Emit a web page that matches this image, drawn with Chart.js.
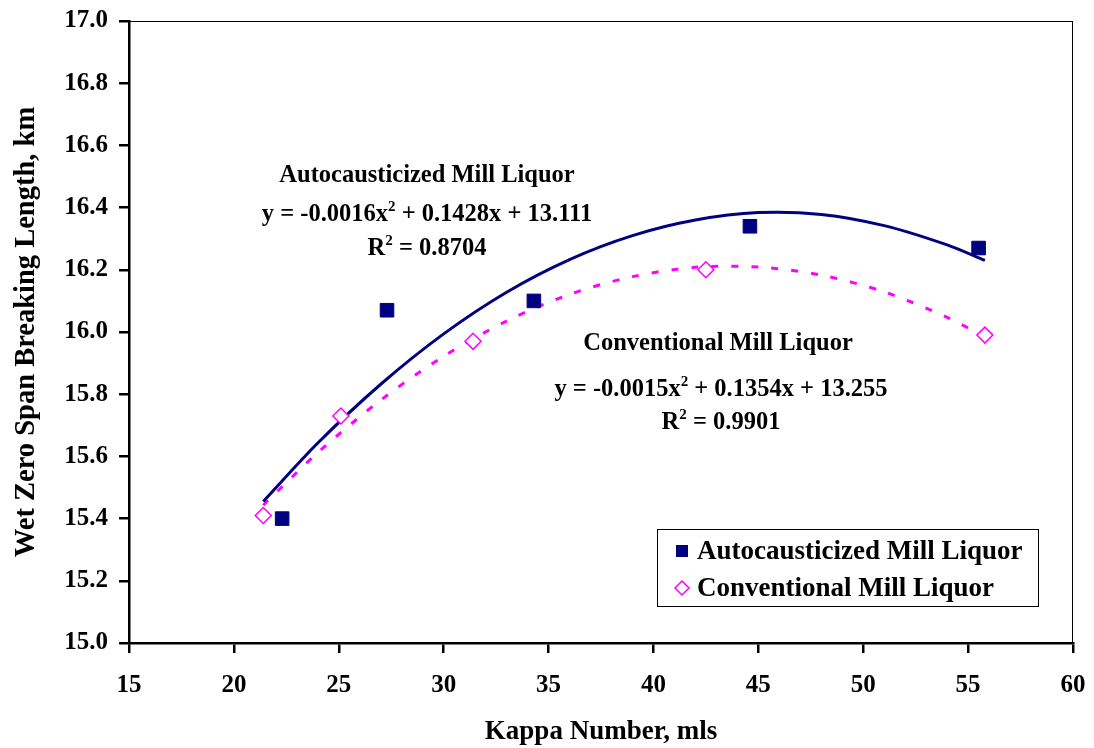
<!DOCTYPE html>
<html>
<head>
<meta charset="utf-8">
<title>Wet Zero Span Breaking Length vs Kappa Number</title>
<script src="https://cdn.jsdelivr.net/npm/chart.js@4.4.1/dist/chart.umd.min.js"></script>
<style>
  body { margin: 0; background: #fff; }
  canvas { display: block; }
</style>
</head>
<body>
<canvas id="grafico" width="1094" height="748"></canvas>
<script>
// measured points
const autoKappa = [22.3, 27.3, 34.3, 44.6, 55.5];
const autoSpan = [15.40, 16.07, 16.10, 16.34, 16.27];
const convKappa = [21.4, 25.1, 31.4, 42.5, 55.8];
const convSpan = [15.41, 15.73, 15.97, 16.20, 15.99];

// trend curves
const trendKappa = [21.4, 24, 27, 30, 33, 36, 39, 42, 45, 48, 51, 54, 55.8];
const autoTrend = [15.455, 15.643, 15.832, 15.994, 16.128, 16.233, 16.310, 16.360, 16.384, 16.378, 16.342, 16.280, 16.230];
const convTrend = [15.443, 15.612, 15.781, 15.922, 16.035, 16.121, 16.178, 16.208, 16.209, 16.183, 16.129, 16.047, 15.984];

// axes
const xMin = 15, xMax = 60, xStep = 5;
const yMin = 15, yMax = 17, yStep = 0.2;

const seriesNames = ['Autocausticized Mill Liquor', 'Conventional Mill Liquor'];
const autoNote = ['Autocausticized Mill Liquor', 'y = -0.0016x^2 + 0.1428x + 13.111', 'R^2 = 0.8704'];
const convNote = ['Conventional Mill Liquor', 'y = -0.0015x^2 + 0.1354x + 13.255', 'R^2 = 0.9901'];

const NAVY = '#000080';
const PINK = '#FF00FF';
const FAMILY = "'Liberation Serif', 'Times New Roman', serif";

Chart.defaults.font.family = FAMILY;
Chart.defaults.font.weight = 'bold';
Chart.defaults.color = '#000';

const toXY = (xs, ys) => xs.map((x, i) => ({ x: x, y: ys[i] }));

// text with a superscript 2 (marked as ^2)
function drawRich(ctx, text, cx, baseline, size) {
  const parts = text.split('^2');
  const big = `bold ${size}px ${FAMILY}`;
  const small = `bold ${Math.round(size * 0.62)}px ${FAMILY}`;
  ctx.font = small;
  const w2 = ctx.measureText('2').width;
  ctx.font = big;
  let total = w2 * (parts.length - 1);
  parts.forEach(p => total += ctx.measureText(p).width);
  let x = cx - total / 2;
  ctx.textAlign = 'left';
  ctx.textBaseline = 'alphabetic';
  ctx.fillStyle = '#000';
  parts.forEach((p, i) => {
    ctx.font = big;
    ctx.fillText(p, x, baseline);
    x += ctx.measureText(p).width;
    if (i < parts.length - 1) {
      ctx.font = small;
      ctx.fillText('2', x, baseline - size * 0.4);
      x += w2;
    }
  });
}

const moldura = {
  id: 'moldura',
  beforeDatasetsDraw(chart) {
    const { ctx, chartArea: a } = chart;
    ctx.save();
    ctx.strokeStyle = '#000';
    ctx.lineWidth = 1;
    ctx.strokeRect(a.left + 0.5, a.top + 0.5, a.right - a.left - 1, a.bottom - a.top);
    ctx.restore();
  }
};

const notas = {
  id: 'notas',
  afterDatasetsDraw(chart) {
    const ctx = chart.ctx;
    ctx.save();
    const autoLines = [182, 221, 255];
    autoNote.forEach((t, i) => drawRich(ctx, t, 427, autoLines[i], 24.5));
    const convLines = [350, 396, 429];
    const convX = [718, 721, 721];
    convNote.forEach((t, i) => drawRich(ctx, t, convX[i], convLines[i], 24.5));
    ctx.restore();
  }
};

const legenda = {
  id: 'legenda',
  afterDraw(chart) {
    const ctx = chart.ctx;
    const box = { x: 657, y: 529, w: 381, h: 77 };
    ctx.save();
    ctx.fillStyle = '#fff';
    ctx.fillRect(box.x, box.y, box.w, box.h);
    ctx.strokeStyle = '#000';
    ctx.lineWidth = 1;
    ctx.strokeRect(box.x + 0.5, box.y + 0.5, box.w, box.h);
    ctx.font = `bold 27px ${FAMILY}`;
    ctx.textAlign = 'left';
    ctx.textBaseline = 'middle';
    const rows = [551, 588];
    seriesNames.forEach((name, i) => {
      const y = rows[i];
      const mx = 682;
      if (i === 0) {
        ctx.fillStyle = NAVY;
        ctx.fillRect(mx - 6, y - 6, 12, 12);
      } else {
        ctx.beginPath();
        ctx.moveTo(mx, y - 7);
        ctx.lineTo(mx + 7, y);
        ctx.lineTo(mx, y + 7);
        ctx.lineTo(mx - 7, y);
        ctx.closePath();
        ctx.fillStyle = '#fff';
        ctx.fill();
        ctx.strokeStyle = PINK;
        ctx.lineWidth = 1.5;
        ctx.stroke();
      }
      ctx.fillStyle = '#000';
      ctx.fillText(name, 697, y + 1);
    });
    ctx.restore();
  }
};

new Chart(document.getElementById('grafico'), {
  type: 'scatter',
  data: {
    datasets: [
      {
        label: seriesNames[0],
        data: toXY(autoKappa, autoSpan),
        pointStyle: 'rect',
        pointRadius: 9.6,
        backgroundColor: NAVY,
        borderColor: NAVY,
        borderWidth: 1,
        order: 0
      },
      {
        label: seriesNames[1],
        data: toXY(convKappa, convSpan),
        pointStyle: 'rectRot',
        pointRadius: 8,
        backgroundColor: '#fff',
        borderColor: PINK,
        borderWidth: 1.5,
        order: 0
      },
      {
        label: 'Poly. (' + seriesNames[0] + ')',
        data: toXY(trendKappa, autoTrend),
        showLine: true,
        pointRadius: 0,
        borderColor: NAVY,
        borderWidth: 3,
        tension: 0.3,
        order: 1
      },
      {
        label: 'Poly. (' + seriesNames[1] + ')',
        data: toXY(trendKappa, convTrend),
        showLine: true,
        pointRadius: 0,
        borderColor: PINK,
        borderWidth: 3,
        borderDash: [7, 13],
        tension: 0.3,
        order: 1
      }
    ]
  },
  options: {
    responsive: false,
    animation: false,
    layout: { padding: { top: 21, right: 21, left: 0, bottom: 0 } },
    plugins: {
      legend: { display: false },
      tooltip: { enabled: false }
    },
    scales: {
      x: {
        type: 'linear',
        min: xMin,
        max: xMax,
        afterFit: s => { s.height = 105; s.paddingLeft = 0; s.paddingRight = 0; },
        ticks: { stepSize: xStep, padding: 18, font: { size: 25 } },
        grid: { drawOnChartArea: false, drawTicks: true, tickLength: 10, color: '#000', lineWidth: 2.5 },
        border: { display: true, color: '#000', width: 2.5 },
        title: { display: true, text: 'Kappa Number, mls', font: { size: 27 }, padding: { top: 0, bottom: 0 } }
      },
      y: {
        type: 'linear',
        min: yMin,
        max: yMax,
        afterFit: s => { s.width = 129; s.paddingTop = 0; s.paddingBottom = 0; },
        ticks: { stepSize: yStep, padding: 11, font: { size: 25 }, callback: v => v.toFixed(1) },
        grid: { drawOnChartArea: false, drawTicks: true, tickLength: 10, color: '#000', lineWidth: 2.5 },
        border: { display: true, color: '#000', width: 2.5 },
        title: { display: true, text: 'Wet Zero Span Breaking Length, km', font: { size: 28.5 }, padding: { top: 10, bottom: 0 } }
      }
    }
  },
  plugins: [moldura, notas, legenda]
});
</script>
</body>
</html>
